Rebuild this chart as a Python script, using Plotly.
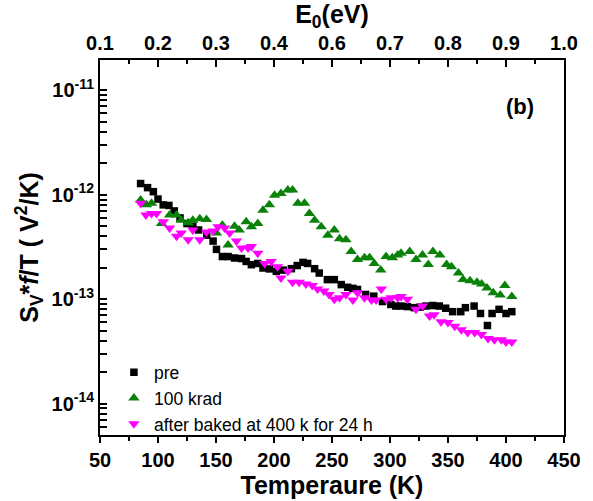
import plotly.graph_objects as go

# ---------------- data ----------------
pre_T = [85, 91, 96, 100, 104.5, 109.4, 114, 119, 125, 130, 135, 142, 147.5, 150.4, 155.5,
         160.4, 166, 172, 176, 180.5, 186, 190.5, 196, 202, 208, 215, 220, 225, 229, 235,
         239, 246, 252, 258, 263.5, 268, 272, 279, 286, 293.5, 300.7, 305, 309.5, 315, 321,
         326, 331, 337, 342.5, 348, 354, 361, 365, 372.5, 378, 384, 388, 394, 400, 405]
pre_S = [1.28e-12, 1.17e-12, 1.07e-12, 9.1e-13, 8.0e-13, 7.9e-13, 7.0e-13, 6.0e-13, 5.3e-13,
         5.0e-13, 4.6e-13, 4.1e-13, 3.6e-13, 3.0e-13, 2.56e-13, 2.56e-13, 2.48e-13, 2.45e-13,
         2.3e-13, 2.14e-13, 2.2e-13, 1.99e-13, 1.95e-13, 1.85e-13, 1.9e-13, 1.96e-13, 2.1e-13,
         2.25e-13, 2.2e-13, 1.96e-13, 1.78e-13, 1.54e-13, 1.54e-13, 1.38e-13, 1.30e-13,
         1.27e-13, 1.24e-13, 1.11e-13, 1.07e-13, 9.5e-14, 8.9e-14, 8.6e-14, 8.6e-14, 8.5e-14,
         8.3e-14, 8.4e-14, 8.6e-14, 8.7e-14, 8.6e-14, 8.2e-14, 7.6e-14, 7.6e-14, 8.3e-14,
         8.6e-14, 7.3e-14, 5.6e-14, 7.3e-14, 8.0e-14, 7.3e-14, 7.6e-14]

krad_T = [85, 90, 94.4, 103, 110, 116, 120, 126, 130, 136, 141.8, 150.4, 155.5, 160.4, 166,
          170, 176, 180.5, 186, 190.5, 196, 200.5, 206, 211.9, 216, 220.6, 226.3, 230.5, 235,
          240.7, 246.4, 252, 256.5, 262, 266.5, 272, 278, 282.4, 286.4, 292, 296.6, 302,
          306.6, 309.5, 317, 322.4, 328, 333, 337, 343, 348.8, 353, 359, 363, 369, 375, 379,
          383.6, 389, 395, 399, 405]
krad_S = [8.9e-13, 8.0e-13, 8.3e-13, 5.3e-13, 6.4e-13, 6.4e-13, 5.7e-13, 5.4e-13, 5.7e-13,
          5.9e-13, 5.8e-13, 4.3e-13, 5.1e-13, 3.3e-13, 5.0e-13, 4.6e-13, 5.5e-13, 4.95e-13,
          5.3e-13, 7.1e-13, 8.0e-13, 9.9e-13, 1.03e-12, 1.11e-12, 1.11e-12, 8.3e-13, 8.3e-13,
          6.6e-13, 5.7e-13, 4.95e-13, 4.1e-13, 4.6e-13, 3.8e-13, 3.7e-13, 2.86e-13, 2.4e-13,
          2.5e-13, 2.5e-13, 2.2e-13, 1.9e-13, 2.56e-13, 2.5e-13, 2.65e-13, 2.76e-13, 2.86e-13,
          2.4e-13, 2.65e-13, 2.15e-13, 2.86e-13, 2.65e-13, 2.15e-13, 2.05e-13, 1.78e-13,
          1.54e-13, 1.5e-13, 1.45e-13, 1.4e-13, 1.28e-13, 1.15e-13, 1.1e-13, 1.35e-13, 1.06e-13]

baked_T = [85, 89.6, 94.4, 98.7, 104.5, 110, 116, 120, 126, 130, 136, 141.8, 147.5, 151.8,
           157.5, 161.8, 167.6, 172, 177.6, 180.5, 186, 192, 197.5, 203, 206, 212, 216,
           221.7, 227.5, 233, 237.5, 243, 247.5, 252, 256.5, 262, 268, 272, 278, 284, 288,
           292.5, 296.6, 301, 306.6, 309.5, 315, 322.4, 328, 334, 338, 344, 350, 355.8,
           361.5, 367, 373, 378.8, 384.5, 390, 396, 400, 405]
baked_S = [8.3e-13, 6.4e-13, 6.6e-13, 6.6e-13, 5.5e-13, 4.8e-13, 4.0e-13, 4.3e-13, 3.7e-13,
           4.6e-13, 3.7e-13, 4.4e-13, 4.5e-13, 4.95e-13, 4.8e-13, 4.3e-13, 3.6e-13, 3.1e-13,
           3.1e-13, 3.2e-13, 2.76e-13, 2.2e-13, 2.3e-13, 2.05e-13, 1.6e-13, 1.85e-13, 1.45e-13,
           1.45e-13, 1.4e-13, 1.35e-13, 1.25e-13, 1.2e-13, 1.11e-13, 1.0e-13, 1.03e-13,
           1.11e-13, 9.8e-14, 1.15e-13, 1.03e-13, 9.8e-14, 9.8e-14, 1.25e-13, 1.0e-13, 1.03e-13,
           1.03e-13, 1.06e-13, 1.0e-13, 8.0e-14, 8.6e-14, 6.9e-14, 7.1e-14, 6.1e-14, 6.0e-14,
           5.5e-14, 5.1e-14, 4.8e-14, 4.8e-14, 4.6e-14, 4.2e-14, 4.1e-14, 4.1e-14, 3.9e-14,
           3.9e-14]

x_ticks = [50, 100, 150, 200, 250, 300, 350, 400, 450]
top_tick_labels = ["0.1", "0.2", "0.3", "0.4", "0.6", "0.7", "0.8", "0.9", "1.0"]
y_exponents = [-14, -13, -12, -11]

# ---------------- figure ----------------
FONT = "Liberation Sans, Arial, sans-serif"
fig = go.Figure()

fig.add_trace(go.Scatter(x=pre_T, y=pre_S, mode="markers", name="pre",
                         marker=dict(symbol="square", size=7.5, color="black")))
fig.add_trace(go.Scatter(x=krad_T, y=krad_S, mode="markers", name="100 krad",
                         marker=dict(symbol="triangle-up", size=10, color="#0a820a")))
fig.add_trace(go.Scatter(x=baked_T, y=baked_S, mode="markers",
                         name="after baked at 400 k for 24 h",
                         marker=dict(symbol="triangle-down", size=10, color="#ff00ff")))

# y ticks: majors labelled, minors (2..9 x 10^n) unlabelled
y_major = [10.0 ** e for e in y_exponents]
y_minor = [k * 10.0 ** e for e in range(-15, -10) for k in range(2, 10)]
y_all_vals = y_major + y_minor
y_all_text = ["<b>10<sup>%d</sup></b>" % e for e in y_exponents] + [" "] * len(y_minor)

x_ticktext = ["<b>%d</b>" % t for t in x_ticks]
top_ticktext = ["<b>%s</b>" % s for s in top_tick_labels]
x_minor = [t + 25 for t in x_ticks[:-1]]

tickfont = dict(family=FONT, size=20, color="black")
Y_RANGE = [-14.3, -10.71]

fig.update_layout(
    width=593, height=501,
    margin=dict(l=100, r=28, t=58, b=66),
    paper_bgcolor="white", plot_bgcolor="rgba(0,0,0,0)",
    font=dict(family=FONT, color="black"),
    showlegend=True,
    legend=dict(x=0.03, y=0.215, xanchor="left", yanchor="top",
                bgcolor="rgba(0,0,0,0)", font=dict(family=FONT, size=17.5, color="black"),
                tracegroupgap=0),
    xaxis=dict(range=[50, 450], tickmode="array", tickvals=x_ticks, ticktext=x_ticktext,
               ticks="outside", ticklen=6, tickwidth=2, tickcolor="black",
               showline=True, linewidth=2, linecolor="black", mirror=False,
               showgrid=False, zeroline=False, tickfont=tickfont,
               minor=dict(tickmode="array", tickvals=x_minor, ticks="outside",
                          ticklen=4, tickwidth=2, tickcolor="black", showgrid=False),
               title=dict(text="<b>Temperaure (K)</b>", standoff=0,
                          font=dict(family=FONT, size=25, color="black"))),
    xaxis2=dict(range=[50, 450], overlaying="x", side="top", anchor="y",
                tickmode="array", tickvals=x_ticks, ticktext=top_ticktext,
                ticks="inside", ticklen=7, tickwidth=2, tickcolor="black",
                showline=True, linewidth=2, linecolor="black",
                showgrid=False, zeroline=False, tickfont=tickfont,
                minor=dict(tickmode="array", tickvals=x_minor, ticks="inside",
                           ticklen=4, tickwidth=2, tickcolor="black", showgrid=False),
                title=dict(text="<b>E<sub>0</sub>(eV)</b>", standoff=2,
                           font=dict(family=FONT, size=25, color="black"))),
    yaxis=dict(type="log", range=Y_RANGE, tickmode="array",
               tickvals=y_all_vals, ticktext=y_all_text,
               ticks="inside", ticklen=7, tickwidth=2, tickcolor="black",
               showline=True, linewidth=2, linecolor="black", mirror=True,
               showgrid=False, zeroline=False, tickfont=tickfont, layer="above traces",
               title=dict(text="<b>S<sub>V</sub>*<i>f</i>/T ( V<sup>2</sup>/K)</b>", standoff=6,
                          font=dict(family=FONT, size=25, color="black"))),
    annotations=[dict(text="<b>(b)</b>", x=0.94, y=0.915, xref="paper", yref="paper",
                      showarrow=False,
                      font=dict(family=FONT, size=22, color="black"))],
)

# invisible trace so that the top axis renders with its range
fig.add_trace(go.Scatter(x=pre_T, y=pre_S, xaxis="x2", mode="markers",
                         marker=dict(opacity=0), showlegend=False, hoverinfo="skip"))

fig.write_html("out.html")
